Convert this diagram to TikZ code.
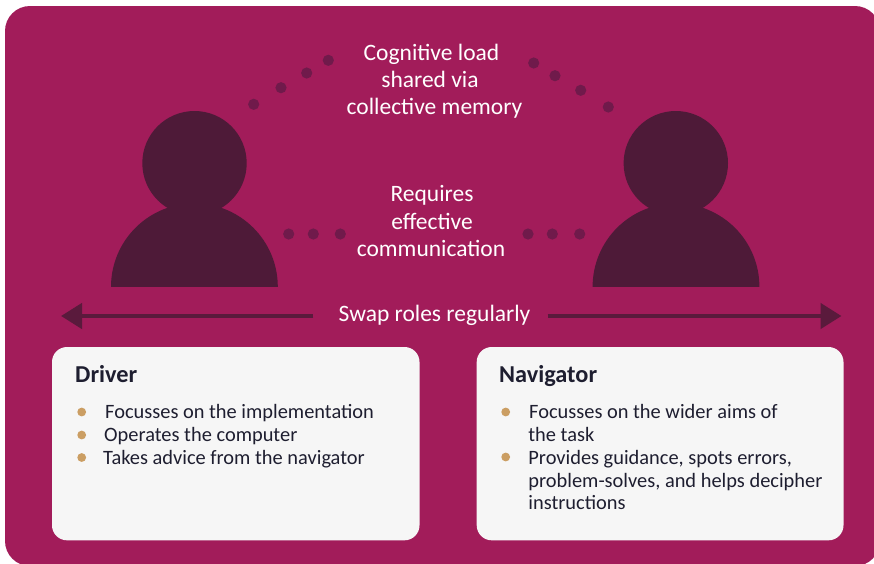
\documentclass[tikz,border=0pt]{standalone}
\usepackage{fontspec}
\setmainfont{Carlito}
\usetikzlibrary{arrows.meta}
\definecolor{panelred}{HTML}{A21C5A}
\definecolor{persondark}{HTML}{4E1A38}
\definecolor{dotdark}{HTML}{701A4B}
\definecolor{arrowdark}{HTML}{5A1A3C}
\definecolor{cardgrey}{HTML}{F6F6F6}
\definecolor{inkdark}{HTML}{1E1E30}
\definecolor{bullettan}{HTML}{CB9E63}
\tikzset{
  person/.style={fill=persondark},
  linkdot/.style={fill=dotdark},
  tandot/.style={fill=bullettan},
  card/.style={fill=cardgrey, rounded corners=15pt},
  caption/.style={text=white, font=\fontsize{23.5}{27.3}\selectfont, anchor=base, inner sep=0pt},
  cardhead/.style={text=inkdark, font=\fontsize{24.3}{27}\selectfont\bfseries, anchor=base west, inner sep=0pt},
  carditem/.style={text=inkdark, font=\fontsize{20.4}{23}\selectfont, anchor=base west, inner sep=0pt},
  swaparrow/.style={draw=arrowdark, line width=4.5pt, -{Triangle[length=21pt,width=25pt]}}
}
\begin{document}
\begin{tikzpicture}[x=1pt,y=-1pt]
\useasboundingbox (0,0) rectangle (874,563);
\clip (0,0) rectangle (874,563);
\fill[white] (0,0) rectangle (874,563);
\fill[panelred, rounded corners=25pt] (5,6) rectangle (880,566);
% people
\fill[person] (194.5,163.2) circle (52.2);
\fill[person] (111,286.8) arc[start angle=180, end angle=360, radius=83.4] -- cycle;
\fill[person] (675.8,163.2) circle (52.2);
\fill[person] (592.6,286.8) arc[start angle=180, end angle=360, radius=83.4] -- cycle;
% dots, upper
\fill[linkdot] (253.7,104.3) circle (5.6);
\fill[linkdot] (281,87.7) circle (5.6);
\fill[linkdot] (306.7,73) circle (5.6);
\fill[linkdot] (328.3,60.3) circle (5.6);
\fill[linkdot] (533.7,63) circle (5.6);
\fill[linkdot] (555,75.7) circle (5.6);
\fill[linkdot] (580.7,90.3) circle (5.6);
\fill[linkdot] (608.3,107) circle (5.6);
% dots, lower
\fill[linkdot] (288.7,234) circle (5.6);
\fill[linkdot] (313.3,234) circle (5.6);
\fill[linkdot] (340.3,234) circle (5.6);
\fill[linkdot] (528,234) circle (5.6);
\fill[linkdot] (552.3,234) circle (5.6);
\fill[linkdot] (579.7,234) circle (5.6);
% captions
\node[caption] (sharedone) at (431.5,60) {Cognitive load};
\node[caption] (sharedtwo) at (430,87.2) {shared via};
\node[caption] (sharedthree) at (434.5,114.2) {collective memory};
\node[caption] (commsone) at (432,201) {Requires};
\node[caption] (commstwo) at (432,229.6) {effective};
\node[caption] (commsthree) at (431,256) {communication};
\node[caption] (swap) at (434.5,321.6) {Swap roles regularly};
\coordinate (tipleft) at (61,316);
\coordinate (tipright) at (841.5,316);
\draw[swaparrow, shorten <=25pt] (swap.west |- tipleft) -- (tipleft);
\draw[swaparrow, shorten <=17pt] (swap.east |- tipright) -- (tipright);
% cards
\fill[card] (52,347) rectangle (419.5,540.3);
\fill[card] (476.7,347) rectangle (843.5,540.3);
\node[cardhead] (driver) at (75,382) {Driver};
\fill[tandot] (81.7,412) circle (4.4);
\fill[tandot] (81.7,435) circle (4.4);
\fill[tandot] (81.7,457.5) circle (4.4);
\node[carditem] (drone) at (105,418) {Focusses on the implementation};
\node[carditem] (drtwo) at (104,441) {Operates the computer};
\node[carditem] (drthree) at (103,464) {Takes advice from the navigator};
\node[cardhead] (navigator) at (499,382) {Navigator};
\fill[tandot] (505.7,412) circle (4.4);
\fill[tandot] (505.7,457) circle (4.4);
\node[carditem] (navone) at (529,418) {Focusses on the wider aims of};
\node[carditem] (navtwo) at (528.2,441) {the task};
\node[carditem] (navthree) at (528.2,464) {Provides guidance, spots errors,};
\node[carditem] (navfour) at (528.2,487) {problem-solves, and helps decipher};
\node[carditem] (navfive) at (528.2,509) {instructions};
\end{tikzpicture}
\end{document}
